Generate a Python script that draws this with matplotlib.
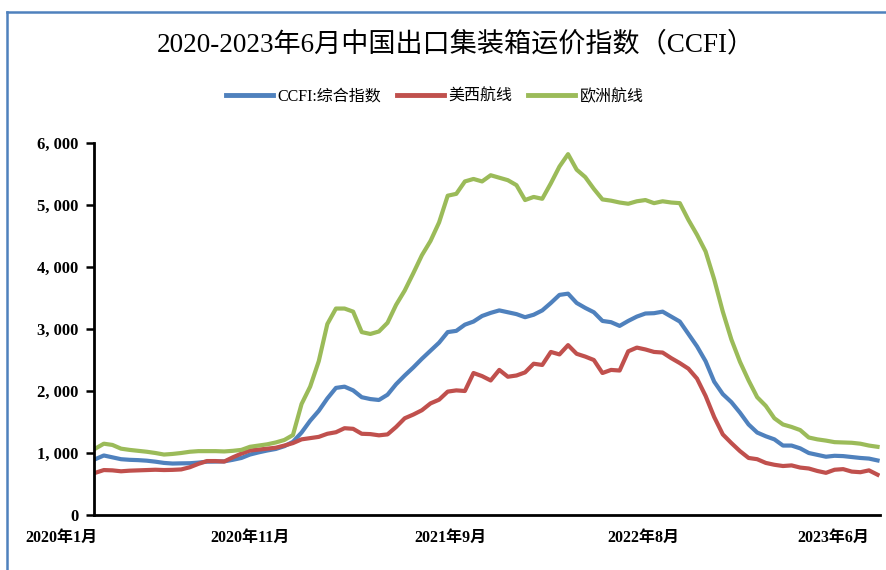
""" Weekly China container freight index (CCFI), Jan 2020 - Jun 2023
"""
import pandas as pd
import matplotlib.pyplot as plt
from matplotlib.lines import Line2D

# two-week samples
dates = pd.date_range('2020-01-03', '2023-06-30', freq='14D')

ccfi = [
    900, 960, 930, 900, 890, 885, 876, 860, 840, 830,
    833, 835, 845, 860, 862, 865, 890, 920, 975, 1010,
    1040, 1065, 1110, 1180, 1330, 1520, 1680, 1880, 2050, 2070,
    2010, 1900, 1870, 1855, 1940, 2110, 2250, 2380, 2520, 2650,
    2780, 2950, 2970, 3070, 3120, 3210, 3260, 3300, 3270, 3240,
    3190, 3230, 3300, 3420, 3550, 3570, 3420, 3340, 3270, 3130,
    3110, 3050, 3130, 3200, 3250, 3255, 3280, 3200, 3120, 2920,
    2720, 2480, 2150, 1950, 1820, 1650, 1460, 1330, 1270, 1220,
    1120, 1120, 1075, 1000, 970, 940, 955, 950, 935, 920,
    910, 880,
]
us_west = [
    680, 725, 720, 705, 715, 720, 725, 730, 725, 728,
    735, 770, 825, 870, 870, 862, 930, 990, 1040, 1055,
    1070, 1085, 1120, 1160, 1220, 1240, 1260, 1310, 1335, 1400,
    1390, 1310, 1305, 1285, 1300, 1420, 1560, 1620, 1690, 1800,
    1860, 1990, 2010, 2000, 2290, 2240, 2170, 2340, 2230, 2250,
    2300, 2440, 2420, 2630, 2590, 2740, 2600, 2555, 2500, 2290,
    2340, 2330, 2640, 2700, 2670, 2630, 2620, 2530, 2450, 2360,
    2200, 1920, 1580, 1300, 1160, 1030, 920, 900, 840, 810,
    790, 800, 765, 750, 710, 680, 730, 740, 700, 690,
    720, 650,
]
europe = [
    1070, 1150, 1130, 1070, 1050, 1035, 1020, 1000, 975, 985,
    1000, 1020, 1030, 1030, 1030, 1025, 1035, 1050, 1100, 1120,
    1140, 1170, 1210, 1290, 1790, 2070, 2480, 3080, 3330, 3330,
    3280, 2950, 2920, 2960, 3100, 3390, 3620, 3900, 4190, 4420,
    4720, 5150, 5180, 5380, 5420, 5380, 5480, 5440, 5400, 5320,
    5080, 5130, 5100, 5350, 5620, 5820, 5570, 5450, 5260, 5090,
    5070, 5040, 5020, 5060, 5080, 5030, 5060, 5040, 5030, 4760,
    4520, 4250, 3800, 3280, 2830, 2470, 2170, 1900, 1760, 1560,
    1460, 1420, 1370, 1250, 1220, 1200, 1175, 1170, 1165, 1150,
    1120, 1100,
]

series_names = ['CCFI:综合指数', '美西航线', '欧洲航线']
tick_dates = pd.to_datetime(['2020-01-06', '2020-11-15', '2021-10-01',
                             '2022-08-12', '2023-06-17'])
tick_labels = ['2020年1月', '2020年11月', '2021年9月', '2022年8月', '2023年6月']
colors = ['#4F81BD', '#C0504D', '#9BBB59']

cjk = ['Liberation Serif', 'Noto Sans CJK SC']

fig = plt.figure(figsize=(8.87, 5.7), dpi=100)
ax = fig.add_axes([94 / 887, 1 - 515 / 570, (880 - 94) / 887, (515 - 143) / 570])

for values, color in zip([ccfi, us_west, europe], colors):
    ax.plot(dates, values, color=color, linewidth=3, solid_joinstyle='round')

ax.set_ylim(0, 6000)
ax.set_yticks(range(0, 6001, 1000))
ax.set_yticklabels([f"{v:,}".replace(',', ', ') for v in range(0, 6001, 1000)],
                   fontfamily='Liberation Serif', fontweight='bold', fontsize=12)
ax.set_xlim(dates[0] - pd.Timedelta(days=2), dates[-1] + pd.Timedelta(days=4))
ax.set_xticks(tick_dates)
ax.set_xticklabels(tick_labels, family=cjk, fontweight='bold', fontsize=11.5, ha='right')
ax.tick_params(axis='x', length=0, pad=11)
ax.tick_params(axis='y', length=6, width=1.8, pad=5, direction='out')
for side in ['top', 'right']:
    ax.spines[side].set_visible(False)
for side in ['left', 'bottom']:
    ax.spines[side].set_linewidth(2)
    ax.spines[side].set_color('black')

fig.text(456 / 887, 1 - 45 / 570, '2020-2023年6月中国出口集装箱运价指数（CCFI）',
         ha='center', va='center', fontsize=19.5, family=cjk)

handles = [Line2D([], [], color=c, linewidth=3.5) for c in colors]
fig.legend(handles, series_names, loc='center', bbox_to_anchor=(435 / 887, 1 - 97 / 570),
           ncol=3, frameon=False, handlelength=2.9, handletextpad=0.3,
           columnspacing=1.0, prop={'family': cjk, 'size': 11.5})

# chart-area border, cut off at the right and bottom
fig.add_artist(Line2D([7.5 / 887, 7.5 / 887], [0, 1 - 11.5 / 570],
                      color='#4F81BD', linewidth=1.8, transform=fig.transFigure))
fig.add_artist(Line2D([7.5 / 887, 1], [1 - 11.5 / 570, 1 - 11.5 / 570],
                      color='#4F81BD', linewidth=1.8, transform=fig.transFigure))

fig.savefig('out.png', dpi=100)
